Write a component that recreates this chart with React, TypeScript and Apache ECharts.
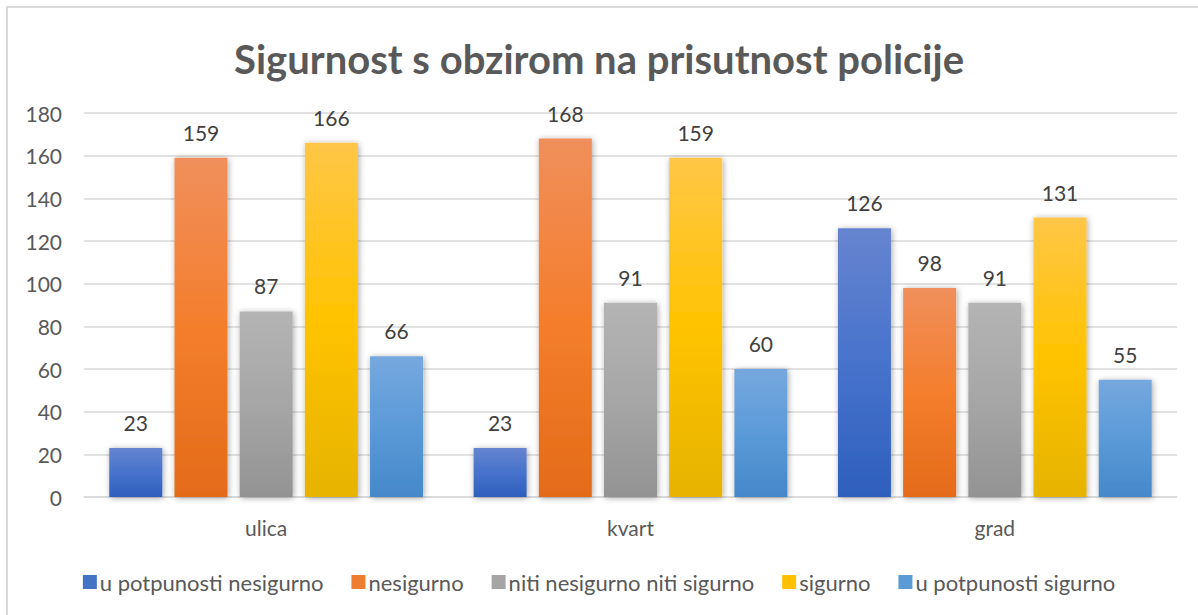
import React, { useEffect, useRef } from "react";
import * as echarts from "echarts";

const categories = ["ulica", "kvart", "grad"];
const seriesNames = [
  "u potpunosti nesigurno",
  "nesigurno",
  "niti nesigurno niti sigurno",
  "sigurno",
  "u potpunosti sigurno",
];
const valPotpunoNesigurno = [23, 23, 126];
const valNesigurno = [159, 168, 98];
const valNiti = [87, 91, 91];
const valSigurno = [166, 159, 131];
const valPotpunoSigurno = [66, 60, 55];
const yTicks = { min: 0, max: 180, interval: 20 };

const gradients: [string, string, string][] = [
  ["#6684cf", "#4773cc", "#2e5fbd"],
  ["#f08f5c", "#f47e2c", "#e36b19"],
  ["#b4b4b4", "#a6a6a6", "#939393"],
  ["#ffc647", "#ffc300", "#e6b300"],
  ["#76a8de", "#5b9ad8", "#4588c9"],
];
const legendColors = ["#4472c4", "#ed7d31", "#a5a5a5", "#ffc000", "#5b9bd5"];

const FONT = "Lato, 'Open Sans', sans-serif";

export default function App() {
  const ref = useRef<HTMLDivElement>(null);
  useEffect(() => {
    if (!ref.current) return;
    const chart = echarts.init(ref.current, null, { renderer: "svg" });
    const allValues = [valPotpunoNesigurno, valNesigurno, valNiti, valSigurno, valPotpunoSigurno];
    chart.setOption({
      animation: false,
      backgroundColor: "#ffffff",
      textStyle: { fontFamily: FONT },
      title: {
        text: "Sigurnost s obzirom na prisutnost policije",
        left: "center",
        top: 34,
        textStyle: { fontSize: 40, fontWeight: "bold", color: "#595959", fontFamily: FONT },
      },
      graphic: [
        {
          type: "rect",
          shape: { x: 0, y: 0, width: 1220, height: 640 },
          x: 7,
          y: 7,
          style: { fill: "none", stroke: "#d9d9d9", lineWidth: 2 },
          silent: true,
          z: -1,
        },
      ],
      legend: {
        top: 566,
        left: "center",
        itemWidth: 14,
        itemHeight: 14,
        itemGap: 28,
        icon: "rect",
        textStyle: { fontSize: 22, color: "#595959", fontFamily: FONT, padding: [0, 0, 0, -2] },
        data: seriesNames.map((n, i) => ({ name: n, itemStyle: { color: legendColors[i] } })),
      },
      grid: { left: 84, right: 21, top: 113, bottom: 118, containLabel: false },
      xAxis: {
        type: "category",
        data: categories,
        axisLine: { show: true, lineStyle: { color: "#d9d9d9", width: 1.5 } },
        axisTick: { show: false },
        axisLabel: { fontSize: 21, color: "#595959", margin: 20, fontFamily: FONT },
      },
      yAxis: {
        type: "value",
        min: yTicks.min,
        max: yTicks.max,
        interval: yTicks.interval,
        axisLine: { show: false },
        axisTick: { show: false },
        axisLabel: { fontSize: 21, color: "#595959", margin: 22, fontFamily: FONT },
        splitLine: { lineStyle: { color: "#d9d9d9", width: 1.5 } },
      },
      series: seriesNames.map((name, i) => ({
        name,
        type: "bar",
        data: allValues[i],
        barWidth: 53,
        barGap: "23%",
        itemStyle: {
          color: new echarts.graphic.LinearGradient(0, 0, 0, 1, [
            { offset: 0, color: gradients[i][0] },
            { offset: 0.5, color: gradients[i][1] },
            { offset: 1, color: gradients[i][2] },
          ]),
          shadowBlur: 6,
          shadowColor: "rgba(0,0,0,0.35)",
          shadowOffsetX: 1,
          shadowOffsetY: 1,
        },
        label: {
          show: true,
          position: "top",
          distance: 15,
          fontSize: 21,
          color: "#404040",
          fontFamily: FONT,
        },
      })),
    });
    return () => chart.dispose();
  }, []);
  return <div ref={ref} style={{ width: 1198, height: 615, position: "absolute", left: 0, top: 0 }} />;
}
